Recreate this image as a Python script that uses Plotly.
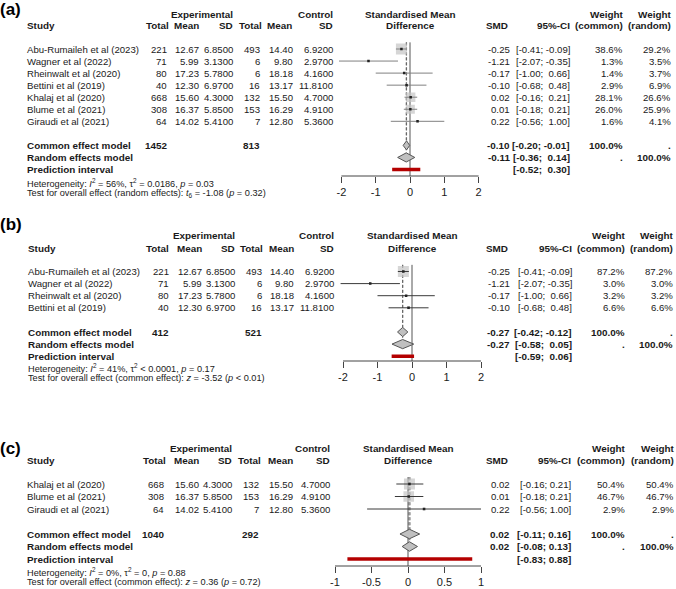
import plotly.graph_objects as go

W, H = 676, 589
FONT = "Liberation Sans, Arial, sans-serif"
TXT = "#1a1a1a"

# ---------------- data ----------------
a_study = ["Abu-Rumaileh et al (2023)", "Wagner et al (2022)", "Rheinwalt et al (2020)",
           "Bettini et al (2019)", "Khalaj et al (2020)", "Blume et al (2021)", "Giraudi et al (2021)"]
a_exp_n = [221, 71, 80, 40, 668, 308, 64]
a_exp_mean = [12.67, 5.99, 17.23, 12.30, 15.60, 16.37, 14.02]
a_exp_sd = [6.85, 3.13, 5.78, 6.97, 4.30, 5.85, 5.41]
a_ctl_n = [493, 6, 6, 16, 132, 153, 7]
a_ctl_mean = [14.40, 9.80, 18.18, 13.17, 15.50, 16.29, 12.80]
a_ctl_sd = [6.92, 2.97, 4.16, 11.81, 4.70, 4.91, 5.36]
a_smd = [-0.25, -1.21, -0.17, -0.10, 0.02, 0.01, 0.22]
a_lo = [-0.41, -2.07, -1.00, -0.68, -0.16, -0.18, -0.56]
a_hi = [-0.09, -0.35, 0.66, 0.48, 0.21, 0.21, 1.00]
a_wc = [38.6, 1.3, 1.4, 2.9, 28.1, 26.0, 1.6]
a_wr = [29.2, 3.5, 3.7, 6.9, 26.6, 25.9, 4.1]
a_common = [-0.10, -0.20, -0.01]
a_random = [-0.11, -0.36, 0.14]
a_pred = [-0.52, 0.30]
a_totals = [1452, 813]
a_het = "Heterogeneity: <i>I</i><sup>2</sup> = 56%, τ<sup>2</sup> = 0.0186, <i>p</i> = 0.03"
a_test = "Test for overall effect (random effects): <i>t</i><sub>6</sub> = -1.08 (<i>p</i> = 0.32)"
a_ticks = [-2, -1, 0, 1, 2]
a_ticktext = ["-2", "-1", "0", "1", "2"]

b_study = ["Abu-Rumaileh et al (2023)", "Wagner et al (2022)", "Rheinwalt et al (2020)", "Bettini et al (2019)"]
b_exp_n = [221, 71, 80, 40]
b_exp_mean = [12.67, 5.99, 17.23, 12.30]
b_exp_sd = [6.85, 3.13, 5.78, 6.97]
b_ctl_n = [493, 6, 6, 16]
b_ctl_mean = [14.40, 9.80, 18.18, 13.17]
b_ctl_sd = [6.92, 2.97, 4.16, 11.81]
b_smd = [-0.25, -1.21, -0.17, -0.10]
b_lo = [-0.41, -2.07, -1.00, -0.68]
b_hi = [-0.09, -0.35, 0.66, 0.48]
b_wc = [87.2, 3.0, 3.2, 6.6]
b_wr = [87.2, 3.0, 3.2, 6.6]
b_common = [-0.27, -0.42, -0.12]
b_random = [-0.27, -0.58, 0.05]
b_pred = [-0.59, 0.06]
b_totals = [412, 521]
b_het = "Heterogeneity: <i>I</i><sup>2</sup> = 41%, τ<sup>2</sup> < 0.0001, <i>p</i> = 0.17"
b_test = "Test for overall effect (common effect): <i>z</i> = -3.52 (<i>p</i> < 0.01)"
b_ticks = [-2, -1, 0, 1, 2]
b_ticktext = ["-2", "-1", "0", "1", "2"]

c_study = ["Khalaj et al (2020)", "Blume et al (2021)", "Giraudi et al (2021)"]
c_exp_n = [668, 308, 64]
c_exp_mean = [15.60, 16.37, 14.02]
c_exp_sd = [4.30, 5.85, 5.41]
c_ctl_n = [132, 153, 7]
c_ctl_mean = [15.50, 16.29, 12.80]
c_ctl_sd = [4.70, 4.91, 5.36]
c_smd = [0.02, 0.01, 0.22]
c_lo = [-0.16, -0.18, -0.56]
c_hi = [0.21, 0.21, 1.00]
c_wc = [50.4, 46.7, 2.9]
c_wr = [50.4, 46.7, 2.9]
c_common = [0.02, -0.11, 0.16]
c_random = [0.02, -0.08, 0.13]
c_pred = [-0.83, 0.88]
c_totals = [1040, 292]
c_het = "Heterogeneity: <i>I</i><sup>2</sup> = 0%, τ<sup>2</sup> = 0, <i>p</i> = 0.88"
c_test = "Test for overall effect (common effect): <i>z</i> = 0.36 (<i>p</i> = 0.72)"
c_ticks = [-1, -0.5, 0, 0.5, 1]
c_ticktext = ["-1", "-0.5", "0", "0.5", "1"]

panels_data = [
    dict(label="(a)", study=a_study, en=a_exp_n, em=a_exp_mean, es=a_exp_sd, cn=a_ctl_n, cm=a_ctl_mean,
         cs=a_ctl_sd, smd=a_smd, lo=a_lo, hi=a_hi, wc=a_wc, wr=a_wr, common=a_common, random=a_random,
         pred=a_pred, totals=a_totals, het=a_het, test=a_test, ticks=a_ticks, ticktext=a_ticktext),
    dict(label="(b)", study=b_study, en=b_exp_n, em=b_exp_mean, es=b_exp_sd, cn=b_ctl_n, cm=b_ctl_mean,
         cs=b_ctl_sd, smd=b_smd, lo=b_lo, hi=b_hi, wc=b_wc, wr=b_wr, common=b_common, random=b_random,
         pred=b_pred, totals=b_totals, het=b_het, test=b_test, ticks=b_ticks, ticktext=b_ticktext),
    dict(label="(c)", study=c_study, en=c_exp_n, em=c_exp_mean, es=c_exp_sd, cn=c_ctl_n, cm=c_ctl_mean,
         cs=c_ctl_sd, smd=c_smd, lo=c_lo, hi=c_hi, wc=c_wc, wr=c_wr, common=c_common, random=c_random,
         pred=c_pred, totals=c_totals, het=c_het, test=c_test, ticks=c_ticks, ticktext=c_ticktext),
]

# ---------------- layout (pixel geometry) ----------------
panels_geo = [
    dict(label_y=9, h1=14, h2=26, y0=49, s=12.05, axis_py=176, fx0=410, fscale=34.3,
         study_x=27, rights=[167, 199, 233, 260, 293, 333], hrights=[169, 199, 233, 262, 292, 333],
         smd_r=510, ci_r=570, wc_r=623, wr_r=671, het_y=183, test_y=193, ci_col="#808080",
         dash_col="#666", dash_w=1),
    dict(label_y=224, h1=235, h2=248, y0=271.5, s=12.1, axis_py=361, fx0=412, fscale=34.5,
         study_x=28, rights=[169, 202, 235, 262, 294, 334], hrights=[169, 202, 235, 263, 294, 334],
         smd_r=510, ci_r=572, wc_r=625, wr_r=673, het_y=368, test_y=378, ci_col="#3a3a3a",
         dash_col="#666", dash_w=1),
    dict(label_y=448, h1=448, h2=460, y0=484, s=12.5, axis_py=566, fx0=408, fscale=73,
         study_x=27, rights=[164, 199, 232, 259, 293, 330], hrights=[166, 199, 232, 261, 293, 330],
         smd_r=510, ci_r=571, wc_r=625, wr_r=674, het_y=572, test_y=582, ci_col="#3a3a3a",
         dash_col="#9a9a9a", dash_w=2),
]

NB = "\u00a0"
REG = 9.6
BOLD = 9.9
SMALL = 9.2


def ann(text, x, y, anchor="right", bold=False, size=None, color=TXT):
    if size is None:
        size = BOLD if bold else REG
    if bold:
        text = f"<b>{text}</b>"
    return dict(text=text, x=x / W, y=1 - y / H, xref="paper", yref="paper", xanchor=anchor,
                yanchor="middle", showarrow=False, borderpad=0, borderwidth=0,
                font=dict(family=FONT, size=size, color=color))


def ci_text(lo, hi, pad_lo, pad_hi):
    slo = f"{lo:.2f}"
    shi = f"{hi:.2f}"
    if pad_lo and lo >= 0:
        slo = NB + slo
    if pad_hi and hi >= 0:
        shi = NB + shi
    return f"[{slo}; {shi}]"


fig = go.Figure()
annotations = []
shapes = []
layout_axes = {}

for k, (d, g) in enumerate(zip(panels_data, panels_geo)):
    n = len(d["study"])
    row = lambda i: g["y0"] + i * g["s"]
    r = g["rights"]
    hr = g["hrights"]
    fc = g["fx0"]
    # panel label
    annotations.append(ann(d["label"], 0, g["label_y"], anchor="left", bold=True, size=17, color="#000"))
    # headers
    annotations += [
        ann("Experimental", r[2], g["h1"], bold=True),
        ann("Control", r[5], g["h1"], bold=True),
        ann("Standardised Mean", fc, g["h1"], anchor="center", bold=True),
        ann("Weight", g["wc_r"], g["h1"], bold=True),
        ann("Weight", g["wr_r"], g["h1"], bold=True),
        ann("Study", g["study_x"], g["h2"], anchor="left", bold=True),
        ann("Total", hr[0], g["h2"], bold=True),
        ann("Mean", hr[1], g["h2"], bold=True),
        ann("SD", hr[2], g["h2"], bold=True),
        ann("Total", hr[3], g["h2"], bold=True),
        ann("Mean", hr[4], g["h2"], bold=True),
        ann("SD", hr[5], g["h2"], bold=True),
        ann("Difference", fc, g["h2"], anchor="center", bold=True),
        ann("SMD", g["smd_r"] - 2, g["h2"], bold=True),
        ann("95%-CI", g["ci_r"], g["h2"], bold=True),
        ann("(common)", g["wc_r"], g["h2"], bold=True),
        ann("(random)", g["wr_r"], g["h2"], bold=True),
    ]
    all_lo = d["lo"] + [d["common"][1], d["random"][1], d["pred"][0]]
    all_hi = d["hi"] + [d["common"][2], d["random"][2], d["pred"][1]]
    pad_lo = any(v < 0 for v in all_lo)
    pad_hi = any(v < 0 for v in all_hi)
    # study rows
    for i in range(n):
        y = row(i)
        annotations += [
            ann(d["study"][i], g["study_x"], y, anchor="left"),
            ann(f"{d['en'][i]}", r[0], y),
            ann(f"{d['em'][i]:.2f}", r[1], y),
            ann(f"{d['es'][i]:.4f}", r[2], y),
            ann(f"{d['cn'][i]}", r[3], y),
            ann(f"{d['cm'][i]:.2f}", r[4], y),
            ann(f"{d['cs'][i]:.4f}", r[5], y),
            ann(f"{d['smd'][i]:.2f}", g["smd_r"], y),
            ann(ci_text(d["lo"][i], d["hi"][i], pad_lo, pad_hi), g["ci_r"], y),
            ann(f"{d['wc'][i]:.1f}%", g["wc_r"], y),
            ann(f"{d['wr'][i]:.1f}%", g["wr_r"], y),
        ]
    rc, rr, rp = n + 1, n + 2, n + 3
    cm, rd, pr = d["common"], d["random"], d["pred"]
    annotations += [
        ann("Common effect model", g["study_x"], row(rc), anchor="left", bold=True),
        ann(f"{d['totals'][0]}", r[0], row(rc), bold=True),
        ann(f"{d['totals'][1]}", r[3], row(rc), bold=True),
        ann(f"{cm[0]:.2f}", g["smd_r"], row(rc), bold=True),
        ann(ci_text(cm[1], cm[2], pad_lo, pad_hi), g["ci_r"], row(rc), bold=True),
        ann("100.0%", g["wc_r"], row(rc), bold=True),
        ann(".", g["wr_r"], row(rc), bold=True),
        ann("Random effects model", g["study_x"], row(rr), anchor="left", bold=True),
        ann(f"{rd[0]:.2f}", g["smd_r"], row(rr), bold=True),
        ann(ci_text(rd[1], rd[2], pad_lo, pad_hi), g["ci_r"], row(rr), bold=True),
        ann(".", g["wc_r"], row(rr), bold=True),
        ann("100.0%", g["wr_r"], row(rr), bold=True),
        ann("Prediction interval", g["study_x"], row(rp), anchor="left", bold=True),
        ann(ci_text(pr[0], pr[1], pad_lo, pad_hi), g["ci_r"], row(rp), bold=True),
        ann(d["het"], g["study_x"], g["het_y"], anchor="left", size=SMALL),
        ann(d["test"], g["study_x"], g["test_y"], anchor="left", size=SMALL),
    ]

    # ---- forest axes ----
    xs = "" if k == 0 else str(k + 1)
    xa, ya = "x" + xs, "y" + xs
    tmin, tmax = d["ticks"][0], d["ticks"][-1]
    pad = 0.08 * (tmax - tmin)
    xlo, xhi = tmin - pad, tmax + pad
    axis_row = (g["axis_py"] - g["y0"]) / g["s"]
    top_py = g["y0"] - g["s"]
    layout_axes["xaxis" + xs] = dict(
        domain=[(fc + g["fscale"] * xlo) / W, (fc + g["fscale"] * xhi) / W],
        range=[xlo, xhi], anchor=ya, showline=False, showgrid=False, zeroline=False,
        tickmode="array", tickvals=d["ticks"], ticktext=d["ticktext"], ticks="outside",
        ticklen=6, tickwidth=1, tickcolor="#444",
        tickfont=dict(family=FONT, size=11, color=TXT), fixedrange=True)
    layout_axes["yaxis" + xs] = dict(
        domain=[1 - g["axis_py"] / H, 1 - top_py / H], range=[axis_row, -1],
        anchor=xa, visible=False, fixedrange=True)
    shapes.append(dict(type="line", xref=xa, yref="paper", x0=tmin, x1=tmax,
                       y0=1 - g["axis_py"] / H, y1=1 - g["axis_py"] / H,
                       line=dict(color="#444", width=1)))

    rows = list(range(n))
    # common / random effect dashed lines
    fig.add_trace(go.Scatter(x=[cm[0], cm[0], None, rd[0], rd[0]],
                             y=[-0.55, rc - 0.4, None, -0.55, rr - 0.4], mode="lines",
                             xaxis=xa, yaxis=ya,
                             line=dict(color=g["dash_col"], width=g["dash_w"], dash="3px,2px"),
                             hoverinfo="skip"))
    # zero line
    fig.add_trace(go.Scatter(x=[0, 0], y=[-0.55, axis_row], mode="lines", xaxis=xa, yaxis=ya,
                             line=dict(color="#555", width=1), hoverinfo="skip"))
    # squares
    wmax = max(d["wc"])
    sizes = [11 * (w / wmax) ** 0.5 for w in d["wc"]]
    fig.add_trace(go.Scatter(x=d["smd"], y=rows, mode="markers", xaxis=xa, yaxis=ya,
                             marker=dict(symbol="square", size=sizes, color="#c4c4c4", line=dict(width=0)),
                             hoverinfo="skip"))
    # CI lines
    cx, cy = [], []
    for i in rows:
        cx += [d["lo"][i], d["hi"][i], None]
        cy += [i, i, None]
    fig.add_trace(go.Scatter(x=cx, y=cy, mode="lines", xaxis=xa, yaxis=ya,
                             line=dict(color=g["ci_col"], width=1), hoverinfo="skip"))
    # estimate points
    fig.add_trace(go.Scatter(x=d["smd"], y=rows, mode="markers", xaxis=xa, yaxis=ya,
                             marker=dict(symbol="square", size=2.5, color="#222", line=dict(width=0)),
                             hoverinfo="skip"))
    # diamonds
    hh = 0.38
    dx, dy = [], []
    for (est, lo, hi), rw in ((cm, rc), (rd, rr)):
        dx += [lo, est, hi, est, lo, None]
        dy += [rw, rw - hh, rw, rw + hh, rw, None]
    fig.add_trace(go.Scatter(x=dx, y=dy, mode="lines", fill="toself", fillcolor="#c0c0c0",
                             xaxis=xa, yaxis=ya, line=dict(color="#555", width=1), hoverinfo="skip"))
    # prediction interval
    fig.add_trace(go.Scatter(x=[pr[0], pr[1]], y=[rp, rp], mode="lines", xaxis=xa, yaxis=ya,
                             line=dict(color="#b40000", width=3.5), hoverinfo="skip"))

fig.update_layout(
    width=W, height=H, autosize=False, showlegend=False,
    margin=dict(l=0, r=0, t=0, b=0),
    paper_bgcolor="white", plot_bgcolor="rgba(0,0,0,0)",
    annotations=annotations, shapes=shapes, **layout_axes,
)

fig.write_html("out.html", config=dict(displayModeBar=False),
               post_script="document.body.style.margin='0';document.body.style.padding='0';"
                           "document.body.style.overflow='hidden';")
